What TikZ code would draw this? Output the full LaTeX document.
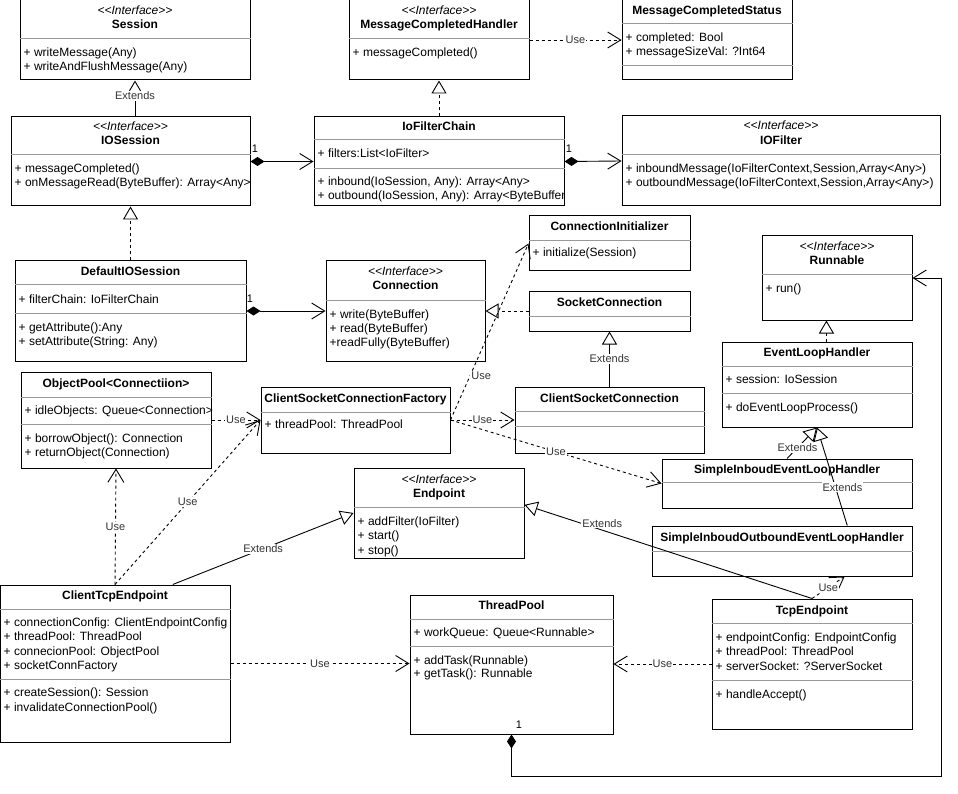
\documentclass[tikz,border=0pt]{standalone}
\usepackage{fontspec}
\newfontfamily\uml{Liberation Sans}
\usetikzlibrary{arrows.meta,fit,calc}
\newcommand\umlst[3]{\node[txt,anchor=base] (#1) at ($(#2.north |- 0,0)+(0,#3+4)$) {\itshape <<Interface>>};}
\newcommand\umlnm[4]{\node[txt,anchor=base] (#1) at ($(#2.north |- 0,0)+(0,#3+4)$) {\bfseries #4};}
\newcommand\umlat[4]{\node[txt,anchor=base west] (#1) at ($(#2.west |- 0,0)+(4,#3+4)$) {#4};}
\newcommand\umlsep[2]{\draw[sepline] (#1.west |- 0,#2) -- (#1.east |- 0,#2);}
\begin{document}
\begin{tikzpicture}[x=1pt,y=-1pt,
  box/.style={draw, line width=1pt, inner sep=0pt, fill=white},
  sepline/.style={draw=black!40, line width=1pt},
  txt/.style={inner sep=0pt, font=\uml\fontsize{12}{14}\selectfont},
  lbl/.style={fill=white, inner sep=1pt, font=\uml\fontsize{11}{13}\selectfont, text=black!80},
  one/.style={inner sep=0pt, font=\uml\fontsize{11}{13}\selectfont},
  conn/.style={line width=0.9pt},
  use/.style={conn, dash pattern=on 3pt off 3pt, -{Straight Barb[length=13pt,width=16pt,line width=0.9pt]}},
  ext/.style={conn, -{Triangle[open,length=13pt,width=15pt,fill=white,line width=0.9pt]}},
  real/.style={ext, dash pattern=on 3pt off 3pt},
  comp/.style={conn, {Diamond[length=14pt,width=9pt]}-{Straight Barb[length=13pt,width=16pt,line width=0.9pt]}}
]
\useasboundingbox (0,0) rectangle (958,794);
% ---------- boxes
\node[box,fit={(20,0)(250,80)}] (session) {};
\node[box,fit={(349,0)(529,80)}] (mch) {};
\node[box,fit={(622,0)(792,80)}] (mcs) {};
\node[box,fit={(11,117)(250,206)}] (iosession) {};
\node[box,fit={(314,117)(564,206)}] (ifc) {};
\node[box,fit={(622,116)(940,206)}] (iofilter) {};
\node[box,fit={(15,261)(246,361)}] (dios) {};
\node[box,fit={(326,261)(485,361)}] (connection) {};
\node[box,fit={(529,216)(690,271)}] (ci) {};
\node[box,fit={(529,291)(690,331)}] (sc) {};
\node[box,fit={(515,387)(704,453)}] (csc) {};
\node[box,fit={(261,387)(450,453)}] (cscf) {};
\node[box,fit={(21,372)(211,468)}] (op) {};
\node[box,fit={(0,585)(230,742)}] (cte) {};
\node[box,fit={(354,468)(524,558)}] (ep) {};
\node[box,fit={(410,595)(613,734)}] (tp) {};
\node[box,fit={(712,599)(912,729)}] (te) {};
\node[box,fit={(762,236)(912,320)}] (runnable) {};
\node[box,fit={(722,342)(912,427)}] (elh) {};
\node[box,fit={(662,459)(912,508)}] (sielh) {};
\node[box,fit={(652,526)(912,576)}] (sioelh) {};
% ---------- contents
\umlst{session-s}{session}{11}
\umlnm{session-n}{session}{25}{Session}
\umlsep{session}{39}
\umlat{session-a1}{session}{53}{+ writeMessage(Any)}
\umlat{session-a2}{session}{67}{+ writeAndFlushMessage(Any)}

\umlst{mch-s}{mch}{11}
\umlnm{mch-n}{mch}{25}{MessageCompletedHandler}
\umlsep{mch}{39}
\umlat{mch-a1}{mch}{53}{+ messageCompleted()}

\umlnm{mcs-n}{mcs}{11}{MessageCompletedStatus}
\umlsep{mcs}{24}
\umlat{mcs-a1}{mcs}{38}{+ completed: Bool}
\umlat{mcs-a2}{mcs}{52}{+ messageSizeVal: ?Int64}
\umlsep{mcs}{66}

\umlst{ios-s}{iosession}{127}
\umlnm{ios-n}{iosession}{141}{IOSession}
\umlsep{iosession}{155}
\umlat{ios-a1}{iosession}{169}{+ messageCompleted()}
\umlat{ios-a2}{iosession}{183}{+ onMessageRead(ByteBuffer): Array<Any>}

\umlnm{ifc-n}{ifc}{127}{IoFilterChain}
\umlsep{ifc}{140}
\umlat{ifc-a1}{ifc}{154}{+ filters:List<IoFilter>}
\umlsep{ifc}{169}
\umlat{ifc-a2}{ifc}{182}{+ inbound(IoSession, Any): Array<Any>}
\umlat{ifc-a3}{ifc}{196}{+ outbound(IoSession, Any): Array<ByteBuffer}

\umlst{iof-s}{iofilter}{126}
\umlnm{iof-n}{iofilter}{141}{IOFilter}
\umlsep{iofilter}{155}
\umlat{iof-a1}{iofilter}{169}{+ inboundMessage(IoFilterContext,Session,Array<Any>)}
\umlat{iof-a2}{iofilter}{183}{+ outboundMessage(IoFilterContext,Session,Array<Any>)}

\umlnm{dios-n}{dios}{272}{DefaultIOSession}
\umlsep{dios}{285}
\umlat{dios-a1}{dios}{299}{+ filterChain: IoFilterChain}
\umlsep{dios}{313}
\umlat{dios-a2}{dios}{327}{+ getAttribute():Any}
\umlat{dios-a3}{dios}{341}{+ setAttribute(String: Any)}

\umlst{conn-s}{connection}{272}
\umlnm{conn-n}{connection}{286}{Connection}
\umlsep{connection}{300}
\umlat{conn-a1}{connection}{314}{+ write(ByteBuffer)}
\umlat{conn-a2}{connection}{328}{+ read(ByteBuffer)}
\umlat{conn-a3}{connection}{342}{+readFully(ByteBuffer)}

\umlnm{ci-n}{ci}{227}{ConnectionInitializer}
\umlsep{ci}{241}
\umlat{ci-a1}{ci}{253}{+ initialize(Session)}

\umlnm{sc-n}{sc}{302}{SocketConnection}
\umlsep{sc}{316}

\umlnm{csc-n}{csc}{398}{ClientSocketConnection}
\umlsep{csc}{411}
\umlsep{csc}{426}

\umlnm{cscf-n}{cscf}{398}{ClientSocketConnectionFactory}
\umlsep{cscf}{412}
\umlat{cscf-a1}{cscf}{424}{+ threadPool: ThreadPool}

\umlnm{op-n}{op}{383}{ObjectPool<Connectiion>}
\umlsep{op}{397}
\umlat{op-a1}{op}{410}{+ idleObjects: Queue<Connection>}
\umlsep{op}{424}
\umlat{op-a2}{op}{438}{+ borrowObject(): Connection}
\umlat{op-a3}{op}{452}{+ returnObject(Connection)}

\umlnm{cte-n}{cte}{595}{ClientTcpEndpoint}
\umlsep{cte}{609}
\umlat{cte-a1}{cte}{622}{+ connectionConfig: ClientEndpointConfig}
\umlat{cte-a2}{cte}{636}{+ threadPool: ThreadPool}
\umlat{cte-a3}{cte}{651}{+ connecionPool: ObjectPool}
\umlat{cte-a4}{cte}{665}{+ socketConnFactory}
\umlsep{cte}{679}
\umlat{cte-a5}{cte}{692}{+ createSession(): Session}
\umlat{cte-a6}{cte}{707}{+ invalidateConnectionPool()}

\umlst{ep-s}{ep}{479}
\umlnm{ep-n}{ep}{493}{Endpoint}
\umlsep{ep}{507}
\umlat{ep-a1}{ep}{521}{+ addFilter(IoFilter)}
\umlat{ep-a2}{ep}{535}{+ start()}
\umlat{ep-a3}{ep}{550}{+ stop()}

\umlnm{tp-n}{tp}{605}{ThreadPool}
\umlsep{tp}{619}
\umlat{tp-a1}{tp}{632}{+ workQueue: Queue<Runnable>}
\umlsep{tp}{646}
\umlat{tp-a2}{tp}{660}{+ addTask(Runnable)}
\umlat{tp-a3}{tp}{673}{+ getTask(): Runnable}

\umlnm{te-n}{te}{610}{TcpEndpoint}
\umlsep{te}{623}
\umlat{te-a1}{te}{637}{+ endpointConfig: EndpointConfig}
\umlat{te-a2}{te}{651}{+ threadPool: ThreadPool}
\umlat{te-a3}{te}{666}{+ serverSocket: ?ServerSocket}
\umlsep{te}{680}
\umlat{te-a4}{te}{694}{+ handleAccept()}

\umlst{run-s}{runnable}{247}
\umlnm{run-n}{runnable}{261}{Runnable}
\umlsep{runnable}{275}
\umlat{run-a1}{runnable}{289}{+ run()}

\umlnm{elh-n}{elh}{352}{EventLoopHandler}
\umlsep{elh}{366}
\umlat{elh-a1}{elh}{379}{+ session: IoSession}
\umlsep{elh}{393}
\umlat{elh-a2}{elh}{407}{+ doEventLoopProcess()}

\umlnm{sielh-n}{sielh}{469}{SimpleInboudEventLoopHandler}
\umlsep{sielh}{482}

\umlnm{sioelh-n}{sioelh}{537}{SimpleInboudOutboundEventLoopHandler}
\umlsep{sioelh}{551}

% ---------- connectors
\draw[ext] (session.south |- iosession.north) -- node[lbl,pos=0.57]{Extends} (session.south);
\draw[real] (ifc.north) -- (mch.south);
\draw[use] (mch.east) -- node[lbl]{Use} (mcs.west);
\draw[comp] (iosession.east) -- (ifc.west);
\node[one] (one1) at (255,149) {1};
\draw[comp] (ifc.east) -- (iofilter.west);
\node[one] (one2) at (569,149) {1};
\draw[real] (dios.north) -- (iosession.south);
\draw[comp] (dios.east) -- (connection.west);
\node[one] (one3) at (250,299) {1};
\draw[real] (sc.west) -- (connection.east);
\draw[ext] (csc.north) -- node[lbl]{Extends} (sc.south);
\draw[use] (cscf.east) -- node[lbl,pos=0.25,anchor=west]{Use} (ci.west);
\draw[use] (cscf.east) -- node[lbl]{Use} (csc.west);
\draw[use] (cscf.east) -- node[lbl]{Use} (sielh.west);
\draw[use] (op.east) -- node[lbl]{Use} (cscf.west);
\draw[use] (cte.north) -- node[lbl]{Use} (op.south);
\draw[use] (cte.north) -- node[lbl]{Use} (cscf.west);
\draw[ext] ($(cte.north)!0.5!(cte.north east)$) -- node[lbl]{Extends} (ep.west);
\draw[use] (cte.east) -- node[lbl]{Use} (cte.east -| tp.west);
\draw[use] (te.west) -- node[lbl]{Use} (te.west -| tp.east);
\draw[ext] (te.north) -- node[lbl,pos=0.73,yshift=7pt]{Extends} ($(ep.north east)!0.41!(ep.south east)$);
\draw[use] (te.north) -- node[lbl]{Use} ($(sioelh.south west)!0.74!(sioelh.south east)$);
\draw[comp] (tp.south) -- ++(0,42) -| ([xshift=29pt]runnable.east) -- (runnable.east);
\node[one] (one4) at (519,725) {1};
\coordinate (rs) at ($(runnable.south west)!0.43!(runnable.south east)$);
\draw[real] (rs |- elh.north) -- (rs);
\draw[ext] (sielh.north) -- node[lbl,pos=0.35]{Extends} (elh.south);
\draw[ext] ($(sioelh.north west)!0.75!(sioelh.north east)$) -- node[lbl,pos=0.39,xshift=7pt]{Extends} (elh.south);
\end{tikzpicture}
\end{document}
